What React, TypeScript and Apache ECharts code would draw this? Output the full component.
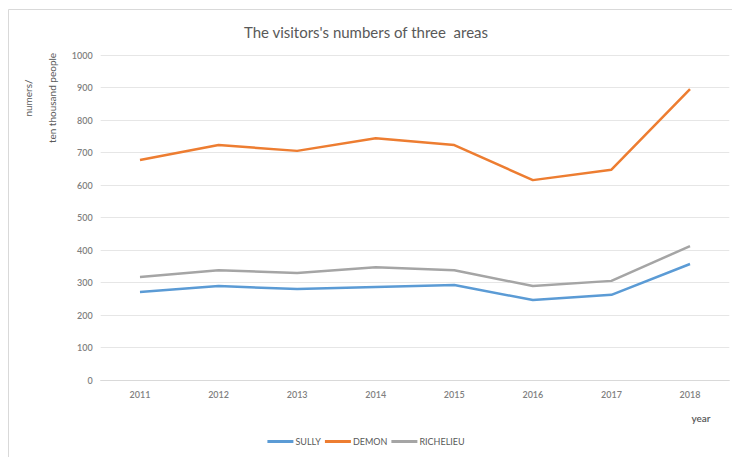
import React, { useEffect, useRef } from "react";
import * as echarts from "echarts";

const years = ["2011", "2012", "2013", "2014", "2015", "2016", "2017", "2018"];
const sully = [271, 289, 280, 286, 292, 246, 262, 357];
const demon = [677, 723, 705, 744, 723, 615, 647, 895];
const richelieu = [317, 338, 329, 347, 338, 289, 305, 412];
const seriesNames = ["SULLY", "DEMON", "RICHELIEU"];
const colors = ["#5B9BD5", "#ED7D31", "#A5A5A5"];

const FONT = "Lato, 'Open Sans', sans-serif";

export default function App() {
  const ref = useRef<HTMLDivElement>(null);
  useEffect(() => {
    document.body.style.margin = "0";
    if (!ref.current) return;
    const chart = echarts.init(ref.current, undefined, { renderer: "svg" });
    const data = [sully, demon, richelieu];
    chart.setOption({
      animation: false,
      backgroundColor: "#ffffff",
      textStyle: { fontFamily: FONT },
      title: {
        text: "The visitors's numbers of three  areas",
        left: "center",
        top: 19,
        textStyle: { fontSize: 15, fontWeight: "normal", color: "#595959", fontFamily: FONT },
      },
      legend: {
        bottom: 6,
        left: "center",
        itemWidth: 26,
        itemHeight: 3,
        itemGap: 4,
        icon: "rect",
        data: seriesNames,
        textStyle: { fontSize: 9, color: "#595959", fontFamily: FONT, padding: [0, 0, 0, -3] },
      },
      grid: { left: 100.7, right: 2.7, top: 55, bottom: 77, containLabel: false },
      xAxis: {
        type: "category",
        data: years,
        boundaryGap: true,
        axisLine: { lineStyle: { color: "#d9d9d9" } },
        axisTick: { show: false },
        axisLabel: { fontSize: 9, color: "#7f7f7f", margin: 10, fontWeight: 600 },
      },
      yAxis: {
        type: "value",
        min: 0,
        max: 1000,
        interval: 100,
        axisLine: { show: false },
        axisTick: { show: false },
        axisLabel: { fontSize: 9, color: "#7f7f7f", margin: 8, fontWeight: 600, formatter: (v: number) => String(v) },
        splitLine: { lineStyle: { color: "#e6e6e6" } },
      },
      graphic: [
        { type: "line", shape: { x1: 8.5, y1: 9.5, x2: 732, y2: 9.5 }, style: { stroke: "#d9d9d9", lineWidth: 1 } },
        { type: "line", shape: { x1: 8.5, y1: 9.5, x2: 8.5, y2: 457 }, style: { stroke: "#d9d9d9", lineWidth: 1 } },
        {
          type: "text",
          x: 28,
          y: 98,
          rotation: Math.PI / 2,
          style: { text: "numers/", fontSize: 10, fill: "#595959", fontFamily: FONT, align: "center", verticalAlign: "middle" },
        },
        {
          type: "text",
          x: 52,
          y: 98,
          rotation: Math.PI / 2,
          style: { text: "ten thousand people", fontSize: 10, fill: "#595959", fontFamily: FONT, align: "center", verticalAlign: "middle" },
        },
        {
          type: "text",
          x: 701,
          y: 418,
          style: { text: "year", fontSize: 10, fill: "#595959", fontFamily: FONT, align: "center", verticalAlign: "middle", fontWeight: 600 },
        },
      ],
      series: seriesNames.map((name, i) => ({
        name,
        type: "line",
        data: data[i],
        symbol: "none",
        color: colors[i],
        lineStyle: { width: 2.5, color: colors[i] },
      })),
    });
    return () => chart.dispose();
  }, []);
  return <div ref={ref} style={{ width: 732, height: 457 }} />;
}
